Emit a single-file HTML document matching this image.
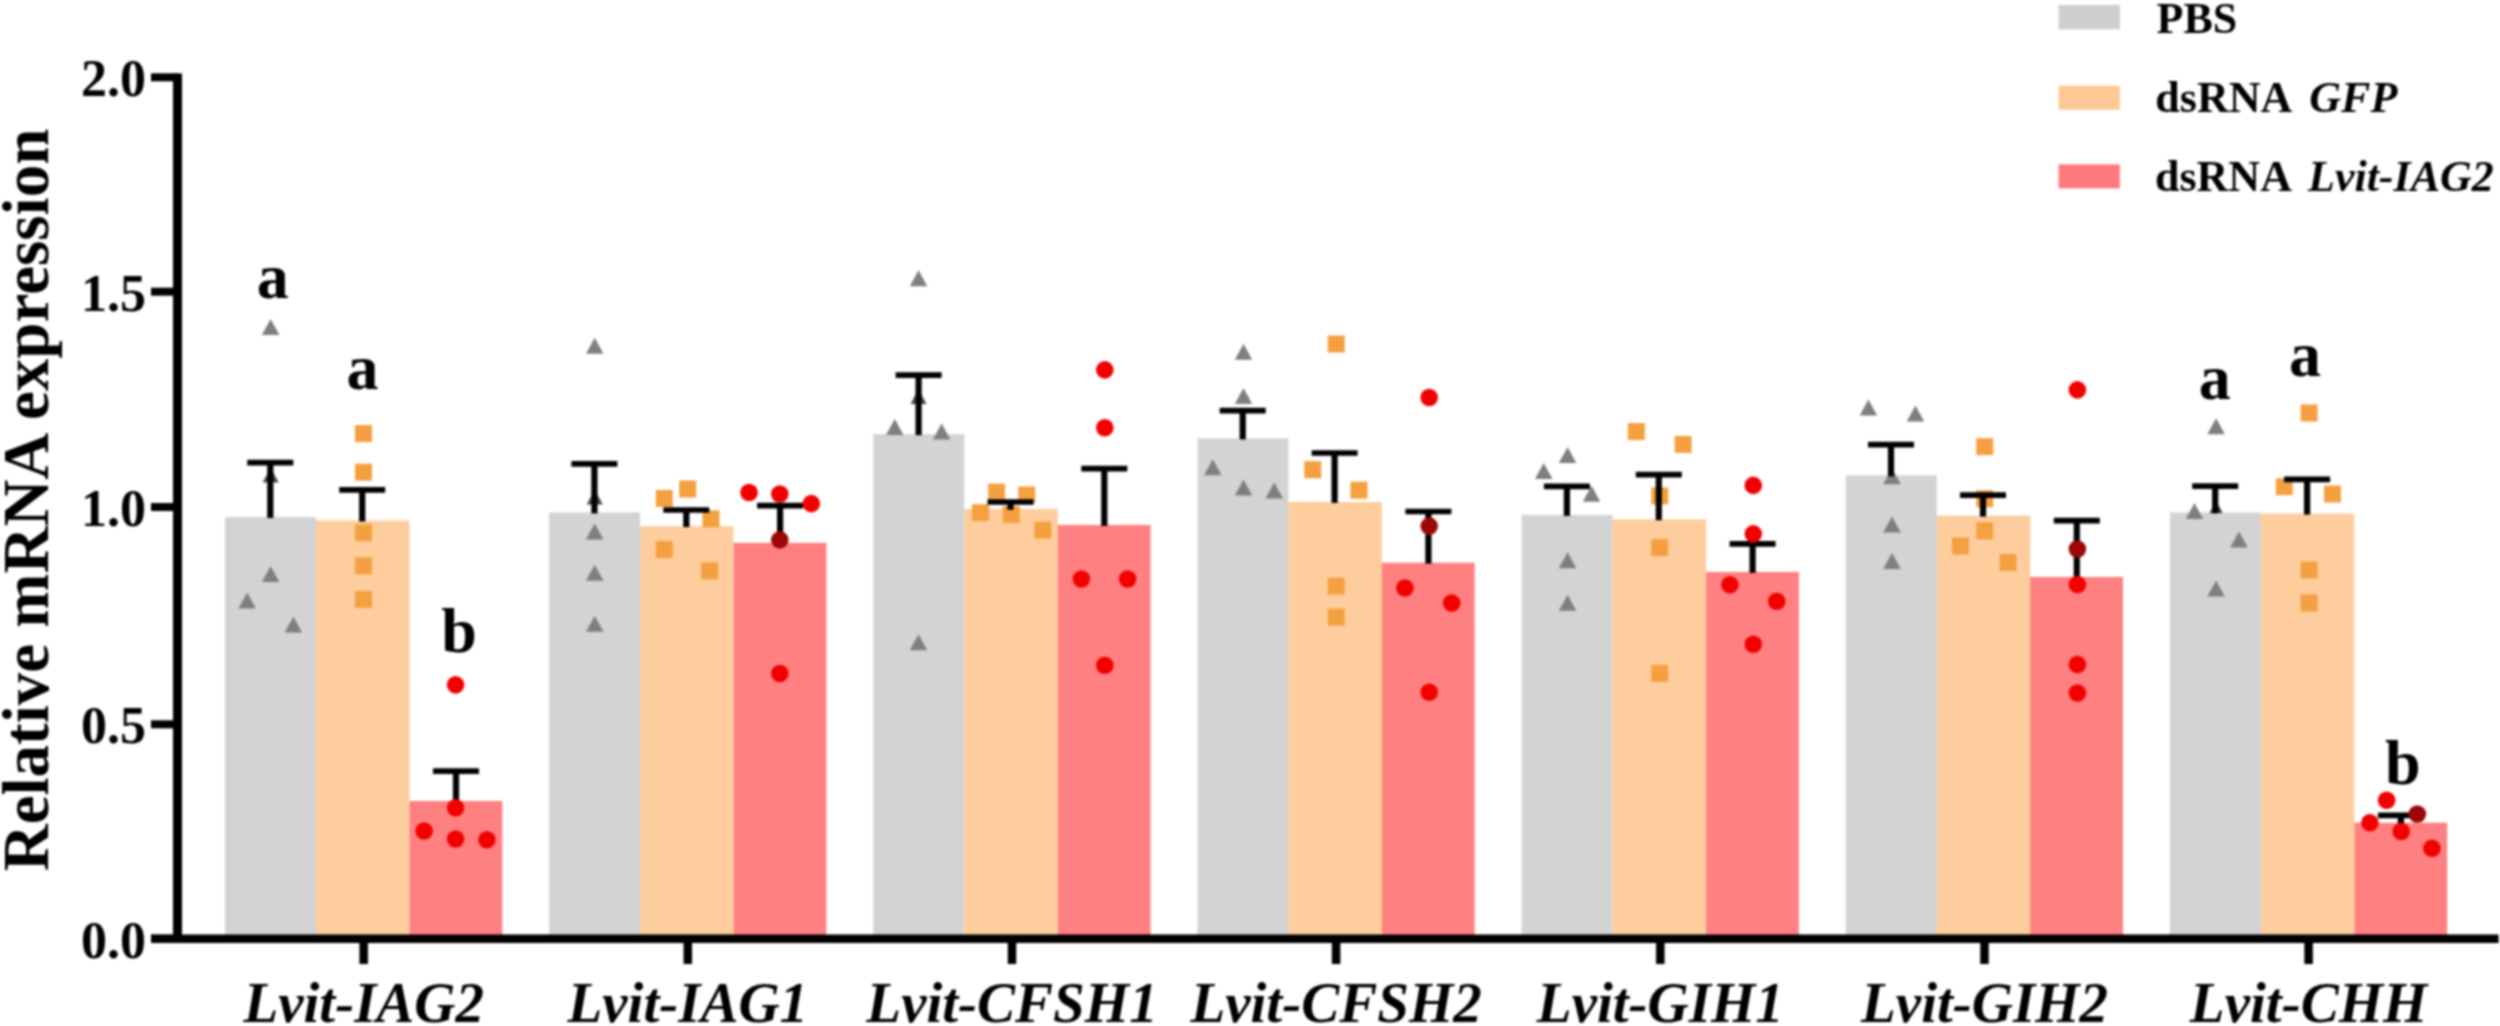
<!DOCTYPE html>
<html><head><meta charset="utf-8"><title>Relative mRNA expression</title>
<style>html,body{margin:0;padding:0;background:#fff;}body{width:2500px;height:1026px;overflow:hidden;}svg{display:block;}text{font-family:"Liberation Serif","Times New Roman",serif;font-weight:bold;fill:#000;}.it{font-style:italic;}</style></head><body>
<svg width="2500" height="1026" viewBox="0 0 2500 1026">
<defs><filter id="bl" x="0" y="0" width="2500" height="1026" filterUnits="userSpaceOnUse" color-interpolation-filters="sRGB"><feGaussianBlur stdDeviation="0.95"/></filter></defs>
<rect x="0" y="0" width="2500" height="1026" fill="#fff"/>
<g filter="url(#bl)">
<rect x="225.0" y="517.0" width="91.0" height="420.0" fill="#d3d3d3"/>
<rect x="316.0" y="520.5" width="93.5" height="416.5" fill="#fecd9e"/>
<rect x="409.5" y="801.0" width="92.8" height="136.0" fill="#ff8080"/>
<rect x="549.1" y="512.4" width="91.0" height="424.6" fill="#d3d3d3"/>
<rect x="640.1" y="526.1" width="93.5" height="410.9" fill="#fecd9e"/>
<rect x="733.6" y="542.8" width="92.8" height="394.2" fill="#ff8080"/>
<rect x="873.3" y="434.2" width="91.0" height="502.8" fill="#d3d3d3"/>
<rect x="964.3" y="508.8" width="93.5" height="428.2" fill="#fecd9e"/>
<rect x="1057.8" y="524.9" width="92.8" height="412.1" fill="#ff8080"/>
<rect x="1197.4" y="438.4" width="91.0" height="498.6" fill="#d3d3d3"/>
<rect x="1288.4" y="501.9" width="93.5" height="435.1" fill="#fecd9e"/>
<rect x="1381.9" y="562.7" width="92.8" height="374.3" fill="#ff8080"/>
<rect x="1521.6" y="514.9" width="91.0" height="422.1" fill="#d3d3d3"/>
<rect x="1612.6" y="519.2" width="93.5" height="417.8" fill="#fecd9e"/>
<rect x="1706.1" y="571.9" width="92.8" height="365.1" fill="#ff8080"/>
<rect x="1845.8" y="475.3" width="91.0" height="461.7" fill="#d3d3d3"/>
<rect x="1936.8" y="515.6" width="93.5" height="421.4" fill="#fecd9e"/>
<rect x="2030.2" y="577.0" width="92.8" height="360.0" fill="#ff8080"/>
<rect x="2169.9" y="512.4" width="91.0" height="424.6" fill="#d3d3d3"/>
<rect x="2260.9" y="513.6" width="93.5" height="423.4" fill="#fecd9e"/>
<rect x="2354.4" y="822.7" width="92.8" height="114.3" fill="#ff8080"/>
<path d="M270.6 319.0L279.4 335.0L261.9 335.0Z" fill="#7f7f7f"/>
<path d="M270.6 467.6L278.7 482.4L262.6 482.4Z" fill="#4a4a4a"/>
<path d="M270.6 566.1L279.4 582.1L261.9 582.1Z" fill="#7f7f7f"/>
<path d="M247.2 592.4L255.9 608.4L238.4 608.4Z" fill="#7f7f7f"/>
<path d="M293.4 616.6L302.1 632.6L284.6 632.6Z" fill="#7f7f7f"/>
<rect x="355.0" y="425.1" width="17.0" height="17.0" fill="#f5a040"/>
<rect x="355.0" y="463.7" width="17.0" height="17.0" fill="#f5a040"/>
<rect x="355.0" y="524.2" width="17.0" height="17.0" fill="#f5a040"/>
<rect x="355.0" y="557.3" width="17.0" height="17.0" fill="#f5a040"/>
<rect x="355.0" y="590.9" width="17.0" height="17.0" fill="#f5a040"/>
<path d="M594.7 337.8L603.5 353.8L586.0 353.8Z" fill="#7f7f7f"/>
<path d="M594.7 489.6L602.8 504.4L586.7 504.4Z" fill="#4a4a4a"/>
<path d="M594.7 523.5L603.5 539.5L586.0 539.5Z" fill="#7f7f7f"/>
<path d="M594.7 564.7L603.5 580.7L586.0 580.7Z" fill="#7f7f7f"/>
<path d="M594.7 615.8L603.5 631.8L586.0 631.8Z" fill="#7f7f7f"/>
<rect x="655.8" y="489.9" width="17.0" height="17.0" fill="#f5a040"/>
<rect x="679.2" y="480.5" width="17.0" height="17.0" fill="#f5a040"/>
<rect x="702.5" y="510.3" width="17.0" height="17.0" fill="#f5a040"/>
<rect x="655.8" y="541.0" width="17.0" height="17.0" fill="#f5a040"/>
<rect x="701.1" y="562.4" width="17.0" height="17.0" fill="#f5a040"/>
<path d="M918.5 270.2L927.2 286.2L909.8 286.2Z" fill="#7f7f7f"/>
<path d="M918.5 389.1L926.5 403.9L910.5 403.9Z" fill="#4a4a4a"/>
<path d="M894.8 419.0L903.5 435.0L886.0 435.0Z" fill="#7f7f7f"/>
<path d="M941.6 423.4L950.4 439.4L932.9 439.4Z" fill="#7f7f7f"/>
<path d="M918.5 634.2L927.2 650.2L909.8 650.2Z" fill="#7f7f7f"/>
<rect x="988.1" y="483.6" width="17.0" height="17.0" fill="#f5a040"/>
<rect x="1018.2" y="486.5" width="17.0" height="17.0" fill="#f5a040"/>
<rect x="972.0" y="504.1" width="17.0" height="17.0" fill="#f5a040"/>
<rect x="1002.7" y="506.1" width="17.0" height="17.0" fill="#f5a040"/>
<rect x="1034.3" y="521.6" width="17.0" height="17.0" fill="#f5a040"/>
<path d="M1243.5 343.7L1252.2 359.7L1234.8 359.7Z" fill="#7f7f7f"/>
<path d="M1243.5 388.1L1252.2 404.1L1234.8 404.1Z" fill="#7f7f7f"/>
<path d="M1212.8 459.2L1221.5 475.2L1204.0 475.2Z" fill="#7f7f7f"/>
<path d="M1243.5 479.6L1252.2 495.6L1234.8 495.6Z" fill="#7f7f7f"/>
<path d="M1274.2 482.5L1283.0 498.5L1265.5 498.5Z" fill="#7f7f7f"/>
<rect x="1327.7" y="335.5" width="17.0" height="17.0" fill="#f5a040"/>
<rect x="1304.3" y="461.2" width="17.0" height="17.0" fill="#f5a040"/>
<rect x="1350.5" y="481.7" width="17.0" height="17.0" fill="#f5a040"/>
<rect x="1327.7" y="577.7" width="17.0" height="17.0" fill="#f5a040"/>
<rect x="1327.7" y="608.5" width="17.0" height="17.0" fill="#f5a040"/>
<path d="M1567.6 447.1L1576.3 463.1L1558.8 463.1Z" fill="#7f7f7f"/>
<path d="M1543.7 463.1L1552.5 479.1L1535.0 479.1Z" fill="#7f7f7f"/>
<path d="M1591.6 485.7L1600.3 501.7L1582.8 501.7Z" fill="#7f7f7f"/>
<path d="M1567.6 552.3L1576.3 568.3L1558.8 568.3Z" fill="#7f7f7f"/>
<path d="M1567.6 594.7L1576.3 610.7L1558.8 610.7Z" fill="#7f7f7f"/>
<rect x="1627.8" y="423.1" width="17.0" height="17.0" fill="#f5a040"/>
<rect x="1674.6" y="435.9" width="17.0" height="17.0" fill="#f5a040"/>
<rect x="1651.2" y="487.4" width="17.0" height="17.0" fill="#f5a040"/>
<rect x="1651.2" y="539.2" width="17.0" height="17.0" fill="#f5a040"/>
<rect x="1651.2" y="664.9" width="17.0" height="17.0" fill="#f5a040"/>
<path d="M1868.4 399.5L1877.2 415.5L1859.7 415.5Z" fill="#7f7f7f"/>
<path d="M1915.4 405.4L1924.2 421.4L1906.7 421.4Z" fill="#7f7f7f"/>
<path d="M1892.0 468.2L1900.8 484.2L1883.2 484.2Z" fill="#7f7f7f"/>
<path d="M1892.0 516.5L1900.8 532.5L1883.2 532.5Z" fill="#7f7f7f"/>
<path d="M1892.0 553.0L1900.8 569.0L1883.2 569.0Z" fill="#7f7f7f"/>
<rect x="1976.2" y="438.1" width="17.0" height="17.0" fill="#f5a040"/>
<rect x="1976.2" y="490.2" width="17.0" height="17.0" fill="#f5a040"/>
<rect x="1976.2" y="522.3" width="17.0" height="17.0" fill="#f5a040"/>
<rect x="1952.0" y="537.5" width="17.0" height="17.0" fill="#f5a040"/>
<rect x="1999.6" y="553.9" width="17.0" height="17.0" fill="#f5a040"/>
<path d="M2216.1 418.2L2224.8 434.2L2207.3 434.2Z" fill="#7f7f7f"/>
<path d="M2194.5 503.0L2203.2 519.0L2185.8 519.0Z" fill="#7f7f7f"/>
<path d="M2216.1 500.9L2222.7 513.1L2209.5 513.1Z" fill="#3a3a3a"/>
<path d="M2239.0 531.4L2247.8 547.4L2230.2 547.4Z" fill="#7f7f7f"/>
<path d="M2216.1 580.5L2224.8 596.5L2207.3 596.5Z" fill="#7f7f7f"/>
<rect x="2300.6" y="404.5" width="17.0" height="17.0" fill="#f5a040"/>
<rect x="2275.8" y="478.2" width="17.0" height="17.0" fill="#f5a040"/>
<rect x="2324.0" y="485.5" width="17.0" height="17.0" fill="#f5a040"/>
<rect x="2300.6" y="561.5" width="17.0" height="17.0" fill="#f5a040"/>
<rect x="2300.6" y="594.5" width="17.0" height="17.0" fill="#f5a040"/>
<path d="M270.3 518.0V462.6" stroke="#000" stroke-width="6.2" fill="none"/>
<path d="M247.3 462.6H293.3" stroke="#000" stroke-width="5.7" fill="none"/>
<path d="M362.2 521.5V489.8" stroke="#000" stroke-width="6.2" fill="none"/>
<path d="M339.2 489.8H385.2" stroke="#000" stroke-width="5.7" fill="none"/>
<path d="M456.0 802.0V771.2" stroke="#000" stroke-width="6.2" fill="none"/>
<path d="M433.0 771.2H479.0" stroke="#000" stroke-width="5.7" fill="none"/>
<path d="M594.4 513.4V463.9" stroke="#000" stroke-width="6.2" fill="none"/>
<path d="M571.4 463.9H617.4" stroke="#000" stroke-width="5.7" fill="none"/>
<path d="M686.3 527.1V510.0" stroke="#000" stroke-width="6.2" fill="none"/>
<path d="M663.3 510.0H709.3" stroke="#000" stroke-width="5.7" fill="none"/>
<path d="M780.1 543.8V505.7" stroke="#000" stroke-width="6.2" fill="none"/>
<path d="M757.1 505.7H803.1" stroke="#000" stroke-width="5.7" fill="none"/>
<path d="M918.6 435.2V375.1" stroke="#000" stroke-width="6.2" fill="none"/>
<path d="M895.6 375.1H941.6" stroke="#000" stroke-width="5.7" fill="none"/>
<path d="M1010.5 509.8V502.0" stroke="#000" stroke-width="6.2" fill="none"/>
<path d="M987.5 502.0H1033.5" stroke="#000" stroke-width="5.7" fill="none"/>
<path d="M1104.3 525.9V468.7" stroke="#000" stroke-width="6.2" fill="none"/>
<path d="M1081.3 468.7H1127.3" stroke="#000" stroke-width="5.7" fill="none"/>
<path d="M1242.7 439.4V410.6" stroke="#000" stroke-width="6.2" fill="none"/>
<path d="M1219.7 410.6H1265.7" stroke="#000" stroke-width="5.7" fill="none"/>
<path d="M1334.6 502.9V453.0" stroke="#000" stroke-width="6.2" fill="none"/>
<path d="M1311.6 453.0H1357.6" stroke="#000" stroke-width="5.7" fill="none"/>
<path d="M1428.4 563.7V511.5" stroke="#000" stroke-width="6.2" fill="none"/>
<path d="M1405.4 511.5H1451.4" stroke="#000" stroke-width="5.7" fill="none"/>
<path d="M1566.9 515.9V486.3" stroke="#000" stroke-width="6.2" fill="none"/>
<path d="M1543.9 486.3H1589.9" stroke="#000" stroke-width="5.7" fill="none"/>
<path d="M1658.8 520.2V474.6" stroke="#000" stroke-width="6.2" fill="none"/>
<path d="M1635.8 474.6H1681.8" stroke="#000" stroke-width="5.7" fill="none"/>
<path d="M1752.6 572.9V543.9" stroke="#000" stroke-width="6.2" fill="none"/>
<path d="M1729.6 543.9H1775.6" stroke="#000" stroke-width="5.7" fill="none"/>
<path d="M1891.0 476.3V444.6" stroke="#000" stroke-width="6.2" fill="none"/>
<path d="M1868.0 444.6H1914.0" stroke="#000" stroke-width="5.7" fill="none"/>
<path d="M1983.0 516.6V495.1" stroke="#000" stroke-width="6.2" fill="none"/>
<path d="M1960.0 495.1H2006.0" stroke="#000" stroke-width="5.7" fill="none"/>
<path d="M2076.8 578.0V520.6" stroke="#000" stroke-width="6.2" fill="none"/>
<path d="M2053.8 520.6H2099.8" stroke="#000" stroke-width="5.7" fill="none"/>
<path d="M2215.2 513.4V486.1" stroke="#000" stroke-width="6.2" fill="none"/>
<path d="M2192.2 486.1H2238.2" stroke="#000" stroke-width="5.7" fill="none"/>
<path d="M2307.1 514.6V479.4" stroke="#000" stroke-width="6.2" fill="none"/>
<path d="M2284.1 479.4H2330.1" stroke="#000" stroke-width="5.7" fill="none"/>
<path d="M2400.9 823.7V815.4" stroke="#000" stroke-width="6.2" fill="none"/>
<path d="M2377.9 815.4H2423.9" stroke="#000" stroke-width="5.7" fill="none"/>
<circle cx="455.6" cy="684.9" r="8.8" fill="#f20000"/>
<circle cx="455.6" cy="807.7" r="8.8" fill="#f20000"/>
<circle cx="424.1" cy="831.0" r="8.8" fill="#f20000"/>
<circle cx="455.6" cy="839.0" r="8.8" fill="#f20000"/>
<circle cx="486.9" cy="839.8" r="8.8" fill="#f20000"/>
<circle cx="749.0" cy="492.5" r="8.8" fill="#f20000"/>
<circle cx="779.8" cy="494.0" r="8.8" fill="#f20000"/>
<circle cx="811.3" cy="503.6" r="8.8" fill="#f20000"/>
<circle cx="779.8" cy="539.9" r="8.8" fill="#9c0606"/>
<circle cx="779.8" cy="673.5" r="8.8" fill="#f20000"/>
<circle cx="1104.8" cy="369.9" r="8.8" fill="#f20000"/>
<circle cx="1104.8" cy="427.8" r="8.8" fill="#f20000"/>
<circle cx="1081.4" cy="579.0" r="8.8" fill="#f20000"/>
<circle cx="1127.6" cy="579.0" r="8.8" fill="#f20000"/>
<circle cx="1104.8" cy="665.2" r="8.8" fill="#f20000"/>
<circle cx="1429.2" cy="397.5" r="8.8" fill="#f20000"/>
<circle cx="1429.2" cy="526.1" r="8.8" fill="#9c0606"/>
<circle cx="1404.9" cy="588.0" r="8.8" fill="#f20000"/>
<circle cx="1451.7" cy="603.0" r="8.8" fill="#f20000"/>
<circle cx="1429.2" cy="692.2" r="8.8" fill="#f20000"/>
<circle cx="1753.3" cy="485.4" r="8.8" fill="#f20000"/>
<circle cx="1753.3" cy="533.9" r="8.8" fill="#f20000"/>
<circle cx="1729.9" cy="584.8" r="8.8" fill="#f20000"/>
<circle cx="1776.7" cy="601.2" r="8.8" fill="#f20000"/>
<circle cx="1753.3" cy="644.2" r="8.8" fill="#f20000"/>
<circle cx="2077.4" cy="389.9" r="8.8" fill="#f20000"/>
<circle cx="2077.4" cy="549.0" r="8.8" fill="#9c0606"/>
<circle cx="2077.4" cy="584.5" r="8.8" fill="#f20000"/>
<circle cx="2077.4" cy="664.5" r="8.8" fill="#f20000"/>
<circle cx="2077.4" cy="693.0" r="8.8" fill="#f20000"/>
<circle cx="2386.6" cy="800.2" r="8.8" fill="#f20000"/>
<circle cx="2417.3" cy="814.0" r="8.8" fill="#9c0606"/>
<circle cx="2369.9" cy="822.7" r="8.8" fill="#f20000"/>
<circle cx="2401.2" cy="831.5" r="8.8" fill="#f20000"/>
<circle cx="2431.9" cy="848.2" r="8.8" fill="#f20000"/>
<path d="M177.5 73.4V943" stroke="#000" stroke-width="9" fill="none"/>
<path d="M151 938.75H2498.6" stroke="#000" stroke-width="8.3" fill="none"/>
<path d="M151 77.3H178" stroke="#000" stroke-width="8" fill="none"/>
<text x="146" y="96.3" font-size="52" text-anchor="end">2.0</text>
<path d="M151 291.7H178" stroke="#000" stroke-width="8" fill="none"/>
<text x="146" y="310.7" font-size="52" text-anchor="end">1.5</text>
<path d="M151 507.0H178" stroke="#000" stroke-width="8" fill="none"/>
<text x="146" y="526.0" font-size="52" text-anchor="end">1.0</text>
<path d="M151 724.3H178" stroke="#000" stroke-width="8" fill="none"/>
<text x="146" y="743.3" font-size="52" text-anchor="end">0.5</text>
<path d="M151 938.7H178" stroke="#000" stroke-width="8" fill="none"/>
<text x="146" y="957.7" font-size="52" text-anchor="end">0.0</text>
<path d="M363.7 938V964" stroke="#000" stroke-width="8.5" fill="none"/>
<text class="it" x="363.7" y="1021.6" font-size="57" text-anchor="middle">Lvit-IAG2</text>
<path d="M687.8 938V964" stroke="#000" stroke-width="8.5" fill="none"/>
<text class="it" x="687.8" y="1021.6" font-size="57" text-anchor="middle">Lvit-IAG1</text>
<path d="M1012.0 938V964" stroke="#000" stroke-width="8.5" fill="none"/>
<text class="it" x="1012.0" y="1021.6" font-size="57" text-anchor="middle">Lvit-CFSH1</text>
<path d="M1336.1 938V964" stroke="#000" stroke-width="8.5" fill="none"/>
<text class="it" x="1336.1" y="1021.6" font-size="57" text-anchor="middle">Lvit-CFSH2</text>
<path d="M1660.3 938V964" stroke="#000" stroke-width="8.5" fill="none"/>
<text class="it" x="1660.3" y="1021.6" font-size="57" text-anchor="middle">Lvit-GIH1</text>
<path d="M1984.5 938V964" stroke="#000" stroke-width="8.5" fill="none"/>
<text class="it" x="1984.5" y="1021.6" font-size="57" text-anchor="middle">Lvit-GIH2</text>
<path d="M2308.6 938V964" stroke="#000" stroke-width="8.5" fill="none"/>
<text class="it" x="2308.6" y="1021.6" font-size="57" text-anchor="middle">Lvit-CHH</text>
<text x="272.7" y="298.0" font-size="64" text-anchor="middle">a</text>
<text x="362.6" y="388.7" font-size="64" text-anchor="middle">a</text>
<text x="459.1" y="651.5" font-size="64" text-anchor="middle">b</text>
<text x="2214.8" y="398.5" font-size="64" text-anchor="middle">a</text>
<text x="2305.1" y="375.8" font-size="64" text-anchor="middle">a</text>
<text x="2402.7" y="784.3" font-size="64" text-anchor="middle">b</text>
<text transform="translate(48 500) rotate(-90)" font-size="65" text-anchor="middle">Relative mRNA expression</text>
<rect x="2058.5" y="5" width="61.4" height="24.3" fill="#cfcfcf"/>
<rect x="2058.5" y="85.8" width="61.4" height="24.0" fill="#fdc894"/>
<rect x="2058.5" y="164.4" width="61.4" height="24.0" fill="#fe7a7e"/>
<text x="2156.5" y="33.0" font-size="44">PBS</text>
<text x="2155.3" y="112" font-size="44">dsRNA <tspan class="it" dx="8.5">GFP</tspan></text>
<text x="2155" y="191" font-size="44">dsRNA <tspan class="it" dx="7.5">Lvit-IAG2</tspan></text>
</g>
</svg></body></html>
